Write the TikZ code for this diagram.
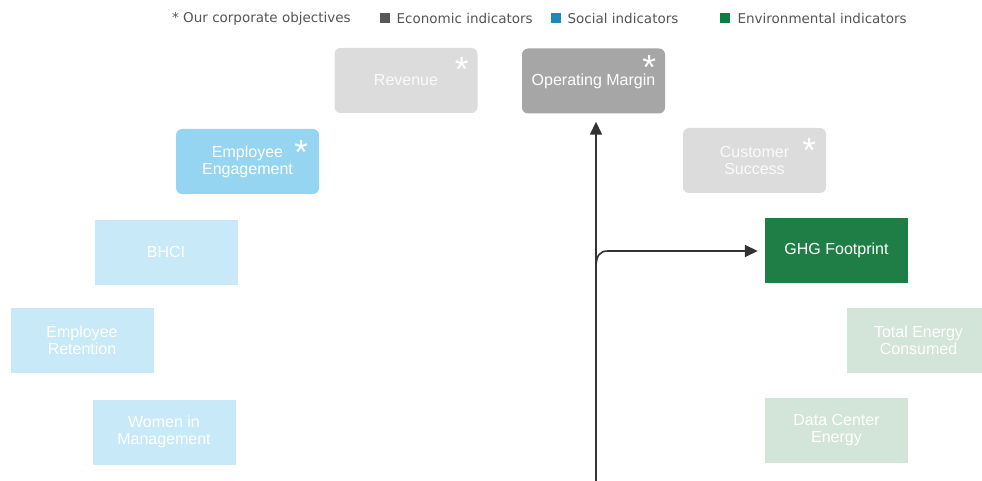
\documentclass[tikz,border=0pt]{standalone}
\usepackage{fontspec}
\setmainfont{Liberation Sans}
\newfontfamily\legendfont{DejaVu Sans}
\usetikzlibrary{arrows.meta,positioning}

\definecolor{econlight}{HTML}{DCDCDC}
\definecolor{econmid}{HTML}{A6A6A6}
\definecolor{sociallight}{HTML}{C8E9F7}
\definecolor{socialmid}{HTML}{96D5F1}
\definecolor{envlight}{HTML}{D3E4D9}
\definecolor{envdark}{HTML}{1F7E45}
\definecolor{legendtext}{HTML}{555555}
\definecolor{legendecon}{HTML}{58585A}
\definecolor{legendsocial}{HTML}{2088B8}
\definecolor{legendenv}{HTML}{0A7F44}
\definecolor{arrowline}{HTML}{333333}

\begin{document}
\begin{tikzpicture}[
      x=1pt, y=-1pt,
      box/.style={minimum width=143pt, minimum height=65pt, inner sep=0pt,
        align=center, text=white, font=\fontsize{16}{17}\selectfont},
      objbox/.style={box, rounded corners=6pt},
      star/.style={anchor=north east, text=white, inner sep=0pt, text depth=0pt,
        font=\fontsize{35}{35}\selectfont},
      legend/.style={anchor=west, inner sep=0pt, text=legendtext,
        font=\legendfont\fontsize{13.5}{14}\selectfont},
      legendsq/.style={anchor=west, minimum size=10pt, inner sep=0pt},
      flow/.style={draw=arrowline, line width=1.6pt,
        -{Triangle[length=13pt,width=12pt]}}
    ]
    \useasboundingbox (0,0) rectangle (982,481);

    % legend
    \node[legend] (legobj) at (172,19) {* Our corporate objectives};
    \node[legendsq, fill=legendecon] (sqecon) at (380,18) {};
    \node[legend, right=6pt of sqecon] (legecon) {Economic indicators};
    \node[legendsq, fill=legendsocial] (sqsocial) at (551,18) {};
    \node[legend, right=6pt of sqsocial] (legsocial) {Social indicators};
    \node[legendsq, fill=legendenv] (sqenv) at (720,18) {};
    \node[legend, right=7pt of sqenv] (legenv) {Environmental indicators};

    % economic
    \node[objbox, fill=econlight, text=white!96!gray] (revenue) at (406,80.5) {Revenue};
    \node[objbox, fill=econmid] (opmargin) at (593.5,81) {Operating Margin};
    \node[objbox, fill=econlight, text=white!96!gray] (custsuccess) at (754.5,160.5) {Customer\\Success};

    % social
    \node[objbox, fill=socialmid] (engagement) at (247.5,161.5) {Employee\\Engagement};
    \node[box, fill=sociallight] (bhci) at (166,252) {BHCI};
    \node[box, fill=sociallight] (retention) at (82,340) {Employee\\Retention};
    \node[box, fill=sociallight] (women) at (164,432) {Women in\\Management};

    % environmental
    \node[box, fill=envdark] (ghg) at (836.5,250) {GHG Footprint};
    \node[box, fill=envlight] (energy) at (918.5,340) {Total Energy\\Consumed};
    \node[box, fill=envlight] (datacenter) at (836.5,430) {Data Center\\Energy};

    % objective stars
    \node[star] (revstar) at ([xshift=-9pt,yshift=-9pt]revenue.north east) {\raisebox{-0.32em}{*}};
    \node[star] (opstar) at ([xshift=-9pt,yshift=-7pt]opmargin.north east) {\raisebox{-0.32em}{*}};
    \node[star] (engstar) at ([xshift=-11pt,yshift=-11pt]engagement.north east) {\raisebox{-0.32em}{*}};
    \node[star] (custstar) at ([xshift=-10pt,yshift=-10pt]custsuccess.north east) {\raisebox{-0.32em}{*}};

    % connectors
    \coordinate (start) at (596,481);
    \coordinate (branch) at (596,268);
    \draw[flow, shorten >=8pt] (start) -- (start |- opmargin.south);
    \draw[flow, shorten >=7pt] (branch) .. controls (596,255) and (600,251) .. (608,251) -- (ghg.west |- 0,251);
\end{tikzpicture}
\end{document}
